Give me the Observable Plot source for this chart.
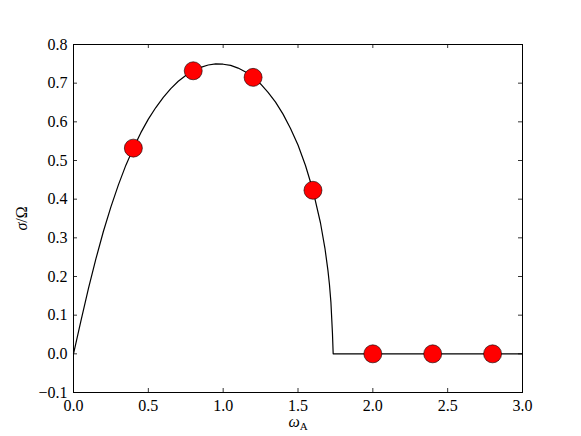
<!DOCTYPE html>
<html>
<head>
<meta charset="utf-8">
<script src="https://cdn.jsdelivr.net/npm/d3@7"></script>
<script src="https://cdn.jsdelivr.net/npm/@observablehq/plot@0.6"></script>
<style>
  html, body { margin: 0; padding: 0; background: #fff; }
  svg text { font-family: "Liberation Serif", serif !important; }
</style>
</head>
<body>
<div id="chart"></div>
<script>
// Curve: sigma/Omega vs omega_A
const curveX = [0, 0.05, 0.1, 0.15, 0.2, 0.25, 0.3, 0.35, 0.4, 0.45, 0.5, 0.55, 0.6, 0.65, 0.7, 0.75, 0.8, 0.85, 0.9, 0.95, 1.0, 1.05, 1.1, 1.15, 1.2, 1.25, 1.3, 1.35, 1.4, 1.45, 1.5, 1.55, 1.6, 1.65, 1.68, 1.7, 1.71, 1.72, 1.73, 1.735, 2.0, 2.5, 3.0];
const curveY = [0, 0.086, 0.169, 0.246, 0.317, 0.380, 0.437, 0.488, 0.532, 0.572, 0.607, 0.637, 0.663, 0.686, 0.705, 0.720, 0.732, 0.741, 0.747, 0.750, 0.749, 0.746, 0.739, 0.729, 0.715, 0.698, 0.676, 0.651, 0.620, 0.583, 0.540, 0.487, 0.423, 0.339, 0.273, 0.216, 0.180, 0.133, 0.055, 0, 0, 0, 0];

// Red markers
const pointX = [0.4, 0.8, 1.2, 1.6, 2.0, 2.4, 2.8];
const pointY = [0.532, 0.732, 0.715, 0.423, 0, 0, 0];

// Ticks
const xTicks = [0, 0.5, 1.0, 1.5, 2.0, 2.5, 3.0];
const yTicks = [-0.1, 0, 0.1, 0.2, 0.3, 0.4, 0.5, 0.6, 0.7, 0.8];

const curve = curveX.map((x, i) => ({x, y: curveY[i]}));
const points = pointX.map((x, i) => ({x, y: pointY[i]}));

const W = 581, H = 436;
const mL = 73, mR = 59, mT = 44, mB = 44;
const innerW = W - mL - mR, innerH = H - mT - mB;
const tickLen = 4;
const FONT = "Liberation Serif";

const plot = Plot.plot({
  width: W,
  height: H,
  marginLeft: mL,
  marginRight: mR,
  marginTop: mT,
  marginBottom: mB,
  style: {fontFamily: FONT, fontSize: "16px", color: "black", background: "white"},
  x: {domain: [0, 3], ticks: xTicks, tickFormat: d3.format(".1f")},
  y: {domain: [-0.1, 0.8], ticks: yTicks, tickFormat: d3.format(".1f")},
  marks: [
    Plot.axisX(xTicks, {anchor: "bottom", tickSize: 0, tickPadding: 7, tickFormat: d3.format(".1f"), label: "ωA", labelAnchor: "center", labelOffset: 34, labelArrow: "none"}),
    Plot.axisY(yTicks, {anchor: "left", tickSize: 0, tickPadding: 6, tickFormat: d3.format(".1f"), label: "σ/Ω", labelAnchor: "center", labelOffset: 58, labelArrow: "none"}),
    Plot.tickX(xTicks, {x: d => d, insetTop: innerH - tickLen, stroke: "black", strokeWidth: 0.8}),
    Plot.tickX(xTicks, {x: d => d, insetBottom: innerH - tickLen, stroke: "black", strokeWidth: 0.8}),
    Plot.tickY(yTicks, {y: d => d, insetRight: innerW - tickLen, stroke: "black", strokeWidth: 0.8}),
    Plot.tickY(yTicks, {y: d => d, insetLeft: innerW - tickLen, stroke: "black", strokeWidth: 0.8}),
    Plot.line(curve, {x: "x", y: "y", stroke: "black", strokeWidth: 1.2}),
    Plot.dot(points, {x: "x", y: "y", r: 9, fill: "red", stroke: "black", strokeWidth: 0.6}),
    Plot.frame({stroke: "black", strokeWidth: 1})
  ]
});

document.getElementById("chart").appendChild(plot);

const svg = d3.select(plot);
svg.selectAll("text").style("font-family", FONT);

// Mixed-style axis labels (italic Greek, upright subscript)
const xl = svg.select('g[aria-label="x-axis label"] text');
if (!xl.empty()) {
  xl.text(null);
  xl.append("tspan").attr("font-style", "italic").text("ω");
  xl.append("tspan").attr("font-size", "11px").attr("dy", "3").text("A");
}
const yl = svg.select('g[aria-label="y-axis label"] text');
if (!yl.empty()) {
  yl.text(null);
  yl.append("tspan").attr("font-style", "italic").text("σ");
  yl.append("tspan").text("/Ω");
}
</script>
</body>
</html>
